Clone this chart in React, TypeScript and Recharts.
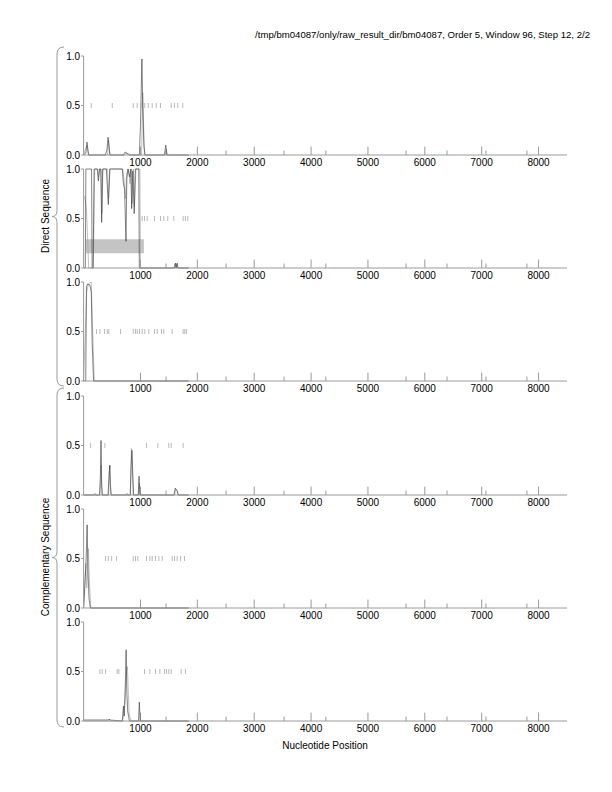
import React from "react"
import { ComposedChart, Line, Scatter, XAxis, YAxis, ReferenceLine, ReferenceArea } from "recharts"

const FONT = '"Liberation Sans", Arial, Helvetica, sans-serif'
const AXIS_GRAY = "#9a9a9a"

const TITLE = "/tmp/bm04087/only/raw_result_dir/bm04087, Order 5, Window 96, Step 12, 2/2"

const xMajorTicks = [1000, 2000, 3000, 4000, 5000, 6000, 7000, 8000]
const xMinorTicks = [1450, 2505, 3525, 4260, 5670, 6390, 7075, 7795]
const yTicks = [0, 0.5, 1]

// [position, value] pairs
const p1Black = [[0, 0], [40, 0.02], [60, 0.13], [75, 0.05], [90, 0], [380, 0], [410, 0.05], [430, 0.18], [445, 0.1], [460, 0], [700, 0], [730, 0.03], [760, 0.02], [790, 0], [980, 0], [1000, 0.3], [1025, 0.97], [1040, 0.5], [1060, 0.1], [1080, 0], [1420, 0], [1445, 0.1], [1465, 0], [1850, 0]]
const p1Gray = [[0, 0], [45, 0.08], [65, 0.1], [85, 0], [420, 0], [440, 0.15], [455, 0.05], [470, 0], [720, 0], [750, 0.02], [800, 0.01], [830, 0], [1020, 0], [1040, 0.63], [1055, 0.3], [1070, 0], [1440, 0], [1455, 0.06], [1470, 0], [1850, 0]]
const p1Marks = [135, 504, 873, 943, 1013, 1076, 1136, 1206, 1276, 1352, 1540, 1598, 1656, 1744]

const p2Black = [[0, 0], [30, 0], [40, 1], [140, 1], [150, 0], [168, 0], [185, 1], [240, 1], [260, 0.88], [280, 1], [300, 1], [318, 0.46], [335, 1], [400, 1], [435, 0.64], [460, 1], [680, 1], [700, 0.85], [720, 0.8], [745, 0.27], [760, 0.9], [780, 1], [810, 0.92], [830, 1], [845, 0.6], [865, 0.98], [890, 0.55], [910, 1], [970, 1], [980, 0], [1600, 0], [1615, 0.05], [1630, 0], [1645, 0.05], [1660, 0], [1850, 0]]
const p2Gray = [[0, 0.72], [20, 0.72], [50, 0.6], [90, 0], [170, 0], [195, 1], [250, 1], [262, 0.92], [285, 1], [310, 1], [322, 0.55], [340, 1], [420, 1], [440, 0.7], [465, 1], [690, 1], [710, 0.9], [740, 0.7], [755, 0.95], [790, 1], [815, 0.85], [840, 1], [855, 0.65], [875, 1], [895, 0.62], [920, 1], [990, 1], [1000, 0], [1590, 0], [1605, 0.04], [1620, 0], [1635, 0.04], [1650, 0], [1850, 0]]
const p2Marks = [1030, 1071, 1118, 1247, 1352, 1410, 1480, 1586, 1750, 1790, 1832]
const p2Box = { x1: 40, x2: 1060, y1: 0.15, y2: 0.29 }

const p3Black = [[0, 0], [38, 0], [50, 0.95], [70, 0.98], [110, 0.97], [135, 0.9], [150, 0.4], [175, 0], [1850, 0]]
const p3Gray = [[0, 0], [55, 0.9], [85, 0.98], [135, 1], [160, 0.5], [188, 0], [1850, 0]]
const p3Marks = [228, 287, 369, 416, 444, 650, 873, 913, 943, 983, 1030, 1076, 1147, 1247, 1294, 1370, 1410, 1557, 1750, 1779, 1808]

const p4Black = [[0, 0], [280, 0], [295, 0.2], [306, 0.55], [318, 0.1], [330, 0], [430, 0], [445, 0.18], [459, 0.3], [470, 0.1], [485, 0], [820, 0], [835, 0.3], [850, 0.45], [865, 0.2], [880, 0], [960, 0], [975, 0.19], [990, 0], [1590, 0], [1610, 0.07], [1640, 0.05], [1660, 0], [1850, 0]]
const p4Gray = [[0, 0], [180, 0], [200, 0.02], [220, 0], [285, 0], [300, 0.1], [310, 0.3], [322, 0], [440, 0], [455, 0.25], [465, 0.3], [480, 0], [750, 0], [760, 0.02], [780, 0], [825, 0], [840, 0.47], [855, 0.35], [870, 0], [965, 0], [980, 0.12], [995, 0], [1600, 0], [1620, 0.06], [1650, 0.04], [1670, 0], [1850, 0]]
const p4Marks = [123, 374, 1106, 1305, 1498, 1540, 1750]

const p5Black = [[0, 0], [20, 0.2], [45, 0.5], [62, 0.84], [75, 0.4], [95, 0.1], [120, 0], [1850, 0]]
const p5Gray = [[0, 0], [25, 0.3], [40, 0.45], [55, 0.2], [70, 0.35], [85, 0.6], [100, 0.3], [125, 0], [1850, 0]]
const p5Marks = [386, 433, 492, 580, 873, 913, 954, 1106, 1165, 1206, 1264, 1323, 1382, 1557, 1598, 1645, 1704, 1774]

const p6Black = [[0, 0.01], [440, 0.01], [450, 0.02], [460, 0.01], [680, 0], [700, 0.15], [715, 0.05], [735, 0.4], [748, 0.72], [760, 0.3], [775, 0.1], [790, 0.05], [805, 0], [965, 0], [980, 0.19], [995, 0], [1850, 0]]
const p6Gray = [[0, 0], [690, 0], [710, 0.1], [730, 0.2], [755, 0.5], [770, 0.55], [780, 0.4], [800, 0.08], [820, 0.03], [840, 0], [1850, 0]]
const p6Marks = [287, 328, 386, 591, 620, 1071, 1165, 1264, 1341, 1423, 1458, 1498, 1540, 1716, 1791]

const toPts = (arr: number[][]) => arr.map(([x, y]) => ({ x, y }))

const panels = [
  { black: p1Black, gray: p1Gray, marks: p1Marks, box: null },
  { black: p2Black, gray: p2Gray, marks: p2Marks, box: p2Box },
  { black: p3Black, gray: p3Gray, marks: p3Marks, box: null },
  { black: p4Black, gray: p4Gray, marks: p4Marks, box: null },
  { black: p5Black, gray: p5Gray, marks: p5Marks, box: null },
  { black: p6Black, gray: p6Gray, marks: p6Marks, box: null },
]

const PANEL_TOP = 56
const PANEL_STEP = 113.2
const MARGIN_TOP = 5

function VMark(props: any) {
  const { cx, cy } = props
  if (cx == null || cy == null) return null
  return <line x1={cx} x2={cx} y1={cy - 2.5} y2={cy + 2.5} stroke="#a8a8a8" strokeWidth={0.8} />
}

function Panel({ panel }: { panel: (typeof panels)[number] }) {
  return (
    <ComposedChart width={612} height={120} margin={{ top: MARGIN_TOP, right: 45, bottom: 0, left: 0 }}>
      <XAxis
        type="number"
        dataKey="x"
        domain={[0, 8500]}
        ticks={xMajorTicks}
        allowDataOverflow
        tickLine={false}
        tickSize={0}
        tickMargin={4}
        height={16}
        axisLine={{ stroke: AXIS_GRAY }}
        tick={{ fontSize: 10, fill: "#000", fontFamily: FONT }}
      />
      <YAxis
        type="number"
        dataKey="y"
        domain={[0, 1]}
        ticks={yTicks}
        width={83.6}
        tickSize={2.5}
        tickMargin={1}
        tickFormatter={(v: number) => v.toFixed(1)}
        axisLine={{ stroke: AXIS_GRAY }}
        tickLine={{ stroke: AXIS_GRAY }}
        tick={{ fontSize: 10, fill: "#000", fontFamily: FONT }}
      />
      {xMajorTicks.map((t) => (
        <ReferenceLine key={`M${t}`} segment={[{ x: t, y: 0 }, { x: t, y: 0.085 }]} stroke={AXIS_GRAY} />
      ))}
      {xMinorTicks.map((t) => (
        <ReferenceLine key={`m${t}`} segment={[{ x: t, y: 0 }, { x: t, y: 0.045 }]} stroke={AXIS_GRAY} />
      ))}
      <Line data={toPts(panel.gray)} dataKey="y" type="linear" stroke="#a6a6a6" strokeWidth={0.7} dot={false} isAnimationActive={false} />
      <Line data={toPts(panel.black)} dataKey="y" type="linear" stroke="#333" strokeWidth={0.6} dot={false} isAnimationActive={false} />
      <Scatter data={panel.marks.map((x) => ({ x, y: 0.5 }))} dataKey="y" shape={VMark} isAnimationActive={false} />
      {panel.box && (
        <ReferenceArea x1={panel.box.x1} x2={panel.box.x2} y1={panel.box.y1} y2={panel.box.y2} fill="#c4c4c4" fillOpacity={1} stroke="none" />
      )}
    </ComposedChart>
  )
}

function brace(x: number, y1: number, y2: number) {
  const mid = (y1 + y2) / 2
  const r = 7
  return `M ${x + 7} ${y1} Q ${x} ${y1} ${x} ${y1 + r} L ${x} ${mid - 6} Q ${x} ${mid} ${x - 5} ${mid} Q ${x} ${mid} ${x} ${mid + 6} L ${x} ${y2 - r} Q ${x} ${y2} ${x + 7} ${y2}`
}

export default function App() {
  return (
    <div style={{ position: "absolute", left: 0, top: 0, width: 612, height: 792, background: "#fff", fontFamily: FONT }}>
      {panels.map((p, i) => (
        <div key={i} style={{ position: "absolute", left: 0, top: PANEL_TOP - MARGIN_TOP + i * PANEL_STEP }}>
          <Panel panel={p} />
        </div>
      ))}
      <svg width={612} height={792} style={{ position: "absolute", left: 0, top: 0, pointerEvents: "none" }}>
        <text x={590} y={38} textAnchor="end" fontSize={9.6} fontFamily={FONT} fill="#000">
          {TITLE}
        </text>
        <path d={brace(57, 47, 386)} fill="none" stroke={AXIS_GRAY} strokeWidth={1} />
        <path d={brace(57, 388, 727)} fill="none" stroke={AXIS_GRAY} strokeWidth={1} />
        <text x={49} y={216} transform="rotate(-90 49 216)" textAnchor="middle" fontSize={10} fontFamily={FONT} fill="#000">
          Direct Sequence
        </text>
        <text x={49} y={557} transform="rotate(-90 49 557)" textAnchor="middle" fontSize={10} fontFamily={FONT} fill="#000">
          Complementary Sequence
        </text>
        <text x={325} y={749} textAnchor="middle" fontSize={10} fontFamily={FONT} fill="#000">
          Nucleotide Position
        </text>
      </svg>
    </div>
  )
}
